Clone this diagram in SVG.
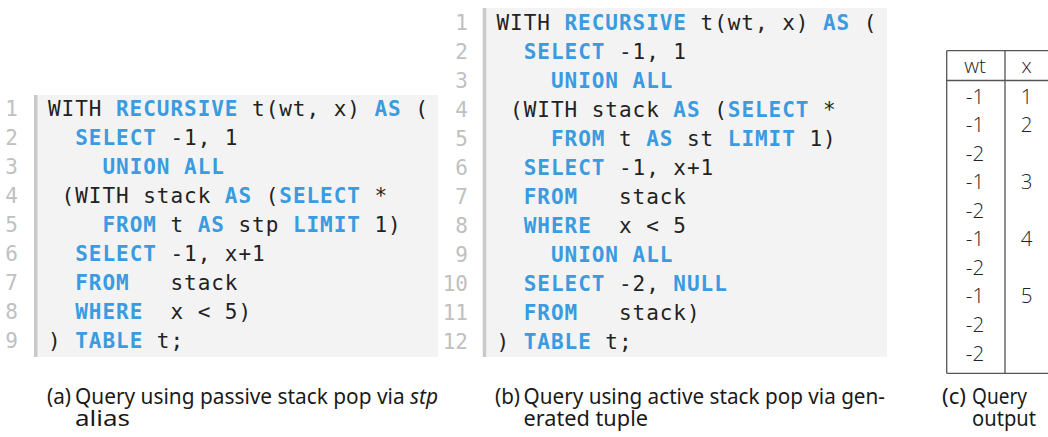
<svg xmlns="http://www.w3.org/2000/svg" width="1048" height="437" viewBox="0 0 1048 437">
<style>
.bg{fill:#f3f3f3}
.bar{fill:#c9c9c9}
.code{font-family:"DejaVu Sans Mono",monospace;font-size:21px;letter-spacing:0.96px;fill:#222;white-space:pre}
.kw{fill:#3a9be0;font-weight:bold}
.ln{font-family:"DejaVu Sans Mono",monospace;font-size:21px;fill:#c0c0c0;text-anchor:end}
.tb{font-family:"Open Sans","Noto Sans",sans-serif;font-weight:300;font-size:20.5px;fill:#222;text-anchor:middle}
.tl{stroke:#555;stroke-width:1.3;fill:none}
.cap{font-family:"Noto Sans","Open Sans",sans-serif;font-size:21.5px;fill:#1a1a1a;white-space:pre}
</style>
<rect width="1048" height="437" fill="#fff"/>
<g id="code-a">
<rect class="bg" x="37" y="95" width="401" height="262"/>
<rect class="bar" x="34" y="95" width="3.5" height="262"/>
<text class="ln" x="18" y="116">1</text>
<text class="ln" x="18" y="145">2</text>
<text class="ln" x="18" y="174">3</text>
<text class="ln" x="18" y="203">4</text>
<text class="ln" x="18" y="232">5</text>
<text class="ln" x="18" y="261">6</text>
<text class="ln" x="18" y="290">7</text>
<text class="ln" x="18" y="319">8</text>
<text class="ln" x="18" y="348">9</text>
<text class="code" x="48" y="116" xml:space="preserve">WITH <tspan class="kw">RECURSIVE</tspan> t(wt, x) <tspan class="kw">AS</tspan> (</text>
<text class="code" x="48" y="145" xml:space="preserve">  <tspan class="kw">SELECT</tspan> -1, 1</text>
<text class="code" x="48" y="174" xml:space="preserve">    <tspan class="kw">UNION ALL</tspan></text>
<text class="code" x="48" y="203" xml:space="preserve"> (WITH stack <tspan class="kw">AS</tspan> (<tspan class="kw">SELECT</tspan> *</text>
<text class="code" x="48" y="232" xml:space="preserve">    <tspan class="kw">FROM</tspan> t <tspan class="kw">AS</tspan> stp <tspan class="kw">LIMIT</tspan> 1)</text>
<text class="code" x="48" y="261" xml:space="preserve">  <tspan class="kw">SELECT</tspan> -1, x+1</text>
<text class="code" x="48" y="290" xml:space="preserve">  <tspan class="kw">FROM</tspan>   stack</text>
<text class="code" x="48" y="319" xml:space="preserve">  <tspan class="kw">WHERE</tspan>  x &lt; 5)</text>
<text class="code" x="48" y="348" xml:space="preserve">) <tspan class="kw">TABLE</tspan> t;</text>
</g>
<g id="code-b">
<rect class="bg" x="486" y="8" width="401" height="349"/>
<rect class="bar" x="482.7" y="8" width="3.5" height="349"/>
<text class="ln" x="468" y="30">1</text>
<text class="ln" x="468" y="59">2</text>
<text class="ln" x="468" y="88">3</text>
<text class="ln" x="468" y="117">4</text>
<text class="ln" x="468" y="146">5</text>
<text class="ln" x="468" y="175">6</text>
<text class="ln" x="468" y="204">7</text>
<text class="ln" x="468" y="233">8</text>
<text class="ln" x="468" y="262">9</text>
<text class="ln" x="468" y="291">10</text>
<text class="ln" x="468" y="320">11</text>
<text class="ln" x="468" y="349">12</text>
<text class="code" x="496.5" y="30" xml:space="preserve">WITH <tspan class="kw">RECURSIVE</tspan> t(wt, x) <tspan class="kw">AS</tspan> (</text>
<text class="code" x="496.5" y="59" xml:space="preserve">  <tspan class="kw">SELECT</tspan> -1, 1</text>
<text class="code" x="496.5" y="88" xml:space="preserve">    <tspan class="kw">UNION ALL</tspan></text>
<text class="code" x="496.5" y="117" xml:space="preserve"> (WITH stack <tspan class="kw">AS</tspan> (<tspan class="kw">SELECT</tspan> *</text>
<text class="code" x="496.5" y="146" xml:space="preserve">    <tspan class="kw">FROM</tspan> t <tspan class="kw">AS</tspan> st <tspan class="kw">LIMIT</tspan> 1)</text>
<text class="code" x="496.5" y="175" xml:space="preserve">  <tspan class="kw">SELECT</tspan> -1, x+1</text>
<text class="code" x="496.5" y="204" xml:space="preserve">  <tspan class="kw">FROM</tspan>   stack</text>
<text class="code" x="496.5" y="233" xml:space="preserve">  <tspan class="kw">WHERE</tspan>  x &lt; 5</text>
<text class="code" x="496.5" y="262" xml:space="preserve">    <tspan class="kw">UNION ALL</tspan></text>
<text class="code" x="496.5" y="291" xml:space="preserve">  <tspan class="kw">SELECT</tspan> -2, <tspan class="kw">NULL</tspan></text>
<text class="code" x="496.5" y="320" xml:space="preserve">  <tspan class="kw">FROM</tspan>   stack)</text>
<text class="code" x="496.5" y="349" xml:space="preserve">) <tspan class="kw">TABLE</tspan> t;</text>
</g>
<g id="table-c">
<path class="tl" d="M946.7 50.7H1050M946.7 80.5H1050M946.7 373.3H1050M946.7 50.7V373.3M1005 50.7V373.3"/>
<text class="tb" x="975" y="72.5">wt</text>
<text class="tb" x="1026.5" y="72.5">x</text>
<text class="tb" x="975" y="103.5">-1</text>
<text class="tb" x="975" y="132">-1</text>
<text class="tb" x="975" y="160.6">-2</text>
<text class="tb" x="975" y="189.2">-1</text>
<text class="tb" x="975" y="217.7">-2</text>
<text class="tb" x="975" y="246.3">-1</text>
<text class="tb" x="975" y="274.8">-2</text>
<text class="tb" x="975" y="303.4">-1</text>
<text class="tb" x="975" y="331.9">-2</text>
<text class="tb" x="975" y="360.5">-2</text>
<text class="tb" x="1026.5" y="103.5">1</text>
<text class="tb" x="1026.5" y="132">2</text>
<text class="tb" x="1026.5" y="189.2">3</text>
<text class="tb" x="1026.5" y="246.3">4</text>
<text class="tb" x="1026.5" y="303.4">5</text>
</g>
<g id="captions">
<text class="cap" x="47" y="404" textLength="24" lengthAdjust="spacingAndGlyphs">(a)</text>
<text class="cap" x="75" y="404" textLength="363" lengthAdjust="spacingAndGlyphs">Query using passive stack pop via <tspan font-style="italic">stp</tspan></text>
<text class="cap" x="75" y="426" textLength="55" lengthAdjust="spacingAndGlyphs">alias</text>
<text class="cap" x="495" y="404" textLength="25" lengthAdjust="spacingAndGlyphs">(b)</text>
<text class="cap" x="523.5" y="404" textLength="361.5" lengthAdjust="spacingAndGlyphs">Query using active stack pop via gen-</text>
<text class="cap" x="523.5" y="426" textLength="124.5" lengthAdjust="spacingAndGlyphs">erated tuple</text>
<text class="cap" x="942" y="404" textLength="24" lengthAdjust="spacingAndGlyphs">(c)</text>
<text class="cap" x="972" y="404" textLength="55" lengthAdjust="spacingAndGlyphs">Query</text>
<text class="cap" x="972" y="426" textLength="64" lengthAdjust="spacingAndGlyphs">output</text>
</g>
</svg>
